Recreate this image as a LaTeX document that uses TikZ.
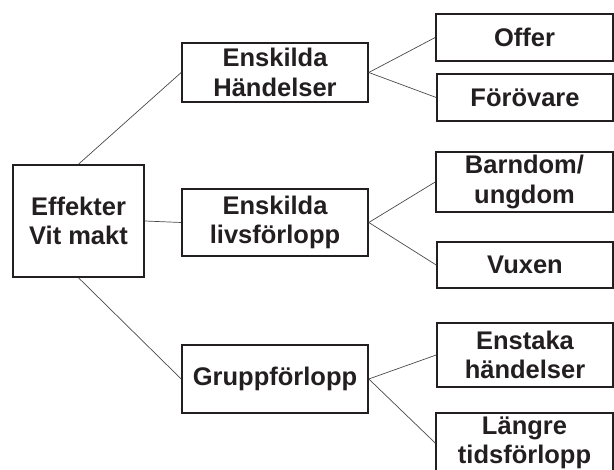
\documentclass[tikz,border=0pt]{standalone}
\usepackage{fontspec}
\setmainfont{Liberation Sans}
\definecolor{ink}{HTML}{231F20}
\definecolor{wire}{HTML}{4A4A4A}
\begin{document}
\begin{tikzpicture}[x=1pt,y=-1pt,
  box/.style={draw=ink,line width=1.6pt,text=ink,align=center,inner sep=0pt,
    font=\fontsize{25.5}{29.5}\selectfont\bfseries},
  wirel/.style={draw=wire,line width=0.7pt}]
\useasboundingbox (0,0) rectangle (614,470);
\clip (0,0) rectangle (614,470);
\fill[white] (0,0) rectangle (614,470);
\node[box,minimum width=131pt,minimum height=112pt] (root) at (78.5,221) {Effekter\\Vit makt};
\node[box,minimum width=186pt,minimum height=59pt] (hand) at (275,72.5) {Enskilda\\Händelser};
\node[box,minimum width=186pt,minimum height=67pt] (livs) at (275,222.5) {Enskilda\\livsförlopp};
\node[box,minimum width=186pt,minimum height=68pt] (grupp) at (275,379) {Gruppförlopp};
\node[box,minimum width=177pt,minimum height=47pt] (offer) at (524.5,37.5) {Offer};
\node[box,minimum width=176pt,minimum height=47pt] (forov) at (525,97.5) {Förövare};
\node[box,minimum width=177pt,minimum height=60pt] (barn) at (524.5,182) {Barndom/\\ungdom};
\node[box,minimum width=176pt,minimum height=46pt] (vuxen) at (525,265) {Vuxen};
\node[box,minimum width=176pt,minimum height=64pt] (enstaka) at (525,355) {Enstaka\\händelser};
\node[box,minimum width=177pt,minimum height=60pt] (langre) at (524.5,443) {Längre\\tidsförlopp};
\draw[wirel] (root.north) -- (hand.west);
\draw[wirel] (root.east) -- (livs.west);
\draw[wirel] (root.south) -- (grupp.west);
\draw[wirel] (hand.east) -- (offer.west);
\draw[wirel] (hand.east) -- (forov.west);
\draw[wirel] (livs.east) -- (barn.west);
\draw[wirel] (livs.east) -- (vuxen.west);
\draw[wirel] (grupp.east) -- (enstaka.west);
\draw[wirel] (grupp.east) -- (langre.west);
\end{tikzpicture}
\end{document}
